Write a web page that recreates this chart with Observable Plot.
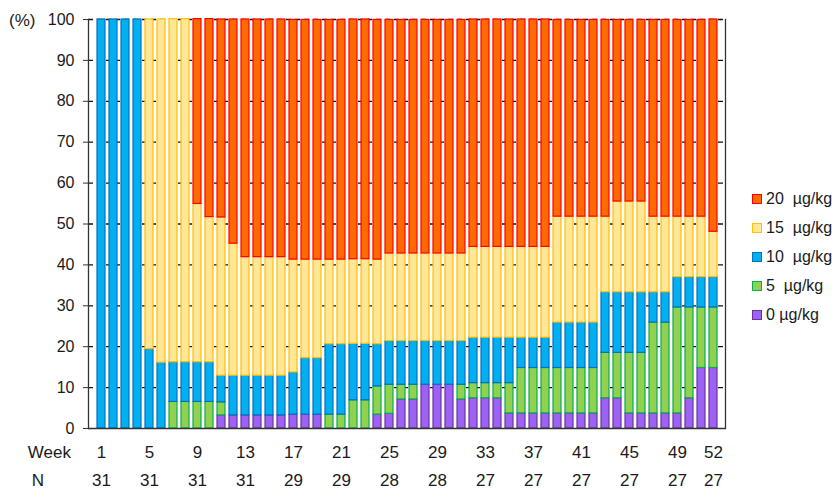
<!DOCTYPE html>
<html>
<head>
<meta charset="utf-8">
<script src="https://cdn.jsdelivr.net/npm/d3@7"></script>
<script src="https://cdn.jsdelivr.net/npm/@observablehq/plot@0.6"></script>
<style>
  html, body { margin: 0; padding: 0; background: #fff; }
  #wrap { position: relative; width: 837px; height: 489px; font-family: "Liberation Sans", Arial, sans-serif; color: #1a1a1a; }
  #wrap svg { position: absolute; left: 0; top: 0; }
  .lab { position: absolute; font-size: 17px; line-height: 1; white-space: pre; }
  #legend { position: absolute; left: 752px; top: 184px; font-size: 16px; }
  .row { display: flex; align-items: center; height: 29px; white-space: pre; }
  .sw { width: 8px; height: 8px; border: 1.5px solid; margin-right: 4px; }
</style>
</head>
<body>
<div id="wrap"></div>
<script>
// ---- data ----
const weeks = d3.range(1, 53);
const tickWeeks = [1, 5, 9, 13, 17, 21, 25, 29, 33, 37, 41, 45, 49, 52];
const nValues   = [31, 31, 31, 31, 29, 29, 28, 28, 27, 27, 27, 27, 27, 27];

const seriesNames = ["0 µg/kg", "5  µg/kg", "10  µg/kg", "15  µg/kg", "20  µg/kg"];

const dose0 = [0,0,0,0, 0,0,0,0, 0,0,3.2,3.2, 3.2,3.2,3.2,3.2, 3.4,3.4,3.4,0, 0,0,0,3.4,
  3.6,7.1,7.1,10.7, 10.7,10.7,7.1,7.4, 7.4,7.4,3.7,3.7, 3.7,3.7,3.7,3.7, 3.7,3.7,7.4,7.4,
  3.7,3.7,3.7,3.7, 3.7,7.4,14.8,14.8];
const dose5 = [0,0,0,0, 0,0,6.5,6.5, 6.5,6.5,3.2,0, 0,0,0,0, 0,0,0,3.4, 3.4,6.9,6.9,6.9,
  7.1,3.6,3.6,0, 0,0,3.6,3.7, 3.7,3.7,7.4,11.1, 11.1,11.1,11.1,11.1, 11.1,11.1,11.1,11.1,
  14.8,14.8,22.2,22.2, 25.9,22.2,14.8,14.8];
const dose10 = [100,100,100,100, 19.4,16.1,9.7,9.7, 9.7,9.7,6.5,9.7, 9.7,9.7,9.7,9.7,
  10.3,13.8,13.8,17.2, 17.2,13.8,13.8,10.3, 10.7,10.7,10.7,10.7, 10.7,10.7,10.7,11.1,
  11.1,11.1,11.1,7.4, 7.4,7.4,11.1,11.1, 11.1,11.1,14.8,14.8, 14.8,14.8,7.4,7.4, 7.4,7.4,7.4,7.4];
const dose15 = [0,0,0,0, 80.6,83.9,83.9,83.9, 38.7,35.5,38.7,32.3, 29.0,29.0,29.0,29.0,
  27.6,24.1,24.1,20.7, 20.7,20.7,20.7,20.7, 21.4,21.4,21.4,21.4, 21.4,21.4,21.4,22.2,
  22.2,22.2,22.2,22.2, 22.2,22.2,25.9,25.9, 25.9,25.9,18.5,22.2, 22.2,22.2,18.5,18.5,
  14.8,14.8,14.8,11.1];
const dose20 = [0,0,0,0, 0,0,0,0, 45.2,48.4,48.4,54.8, 58.1,58.1,58.1,58.1,
  58.6,58.6,58.6,58.6, 58.6,58.6,58.6,58.6, 57.1,57.1,57.1,57.1, 57.1,57.1,57.1,55.6,
  55.6,55.6,55.6,55.6, 55.6,55.6,48.1,48.1, 48.1,48.1,48.1,44.4, 44.4,44.4,48.1,48.1,
  48.1,48.1,48.1,51.9];

const seriesValues = [dose0, dose5, dose10, dose15, dose20];
const fills   = ["#9b62f5", "#92d050", "#00b0f0", "#ffe699", "#ff6a00"];
const strokes = ["#7030a0", "#00b050", "#0070c0", "#ffc000", "#ff0000"];

// ---- table ----
const table = [];
weeks.forEach((w, i) => {
  seriesValues.forEach((vals, s) => {
    if (vals[i] > 0) table.push({week: w, series: seriesNames[s], value: vals[i], fill: fills[s], stroke: strokes[s]});
  });
});

const chart = Plot.plot({
  width: 837,
  height: 489,
  marginLeft: 88,
  marginRight: 112,
  marginTop: 19,
  marginBottom: 61,
  style: {fontFamily: "'Liberation Sans', Arial, sans-serif", fontSize: "16px", color: "#1a1a1a", background: "transparent"},
  x: {type: "band", domain: weeks, paddingInner: 0.34, paddingOuter: 0.45, label: null},
  y: {domain: [0, 100], label: null},
  color: {type: "identity"},
  marks: [
    Plot.ruleY(d3.range(10, 101, 10), {stroke: "#111", strokeWidth: 1.3, strokeDasharray: "5,4"}),
    Plot.barY(table, Plot.stackY({x: "week", y: "value", fill: "fill", stroke: "stroke", strokeWidth: 1.2})),
    Plot.ruleY([0], {stroke: "#333", strokeWidth: 1.3}),
    Plot.frame({anchor: "left", stroke: "#333", strokeWidth: 1.3}),
    Plot.frame({anchor: "right", stroke: "#333", strokeWidth: 1.3}),
    Plot.axisY({ticks: d3.range(0, 101, 10), tickSize: 5, tickPadding: 9, label: null, fontSize: 16, stroke: "#333"}),
    Plot.axisX({ticks: tickWeeks, tickSize: 0, tickPadding: 17, label: null, fontSize: 17}),
    Plot.axisX({ticks: tickWeeks, tickSize: 0, tickPadding: 45, label: null, fontSize: 17,
      tickFormat: d => String(nValues[tickWeeks.indexOf(d)])})
  ]
});

const wrap = document.getElementById("wrap");
wrap.appendChild(chart);

function addLabel(text, left, top, align) {
  const el = document.createElement("div");
  el.className = "lab";
  el.textContent = text;
  el.style.left = left + "px";
  el.style.top = top + "px";
  if (align === "right") { el.style.transform = "translateX(-100%)"; }
  if (align === "center") { el.style.transform = "translateX(-50%)"; }
  wrap.appendChild(el);
}
addLabel("(%)", 9, 12);
addLabel("Week", 71, 444, "right");
addLabel("N", 38, 472, "center");

// legend (top-to-bottom: 20, 15, 10, 5, 0)
const legend = document.createElement("div");
legend.id = "legend";
for (let s = seriesNames.length - 1; s >= 0; s--) {
  const row = document.createElement("div");
  row.className = "row";
  const sw = document.createElement("span");
  sw.className = "sw";
  sw.style.background = fills[s];
  sw.style.borderColor = strokes[s];
  const tx = document.createElement("span");
  tx.textContent = seriesNames[s];
  row.appendChild(sw);
  row.appendChild(tx);
  legend.appendChild(row);
}
wrap.appendChild(legend);
</script>
</body>
</html>
